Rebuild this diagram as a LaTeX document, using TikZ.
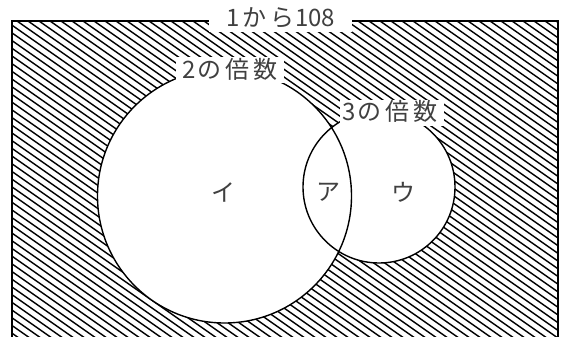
\documentclass[tikz,border=0pt]{standalone}
\usepackage{fontspec}
\setmainfont{Noto Sans CJK JP}
\begin{document}
\begin{tikzpicture}[x=1pt,y=-1pt,
  lab/.style={font=\fontsize{24}{24}\selectfont, inner sep=0pt, text=black!75},
  hatchline/.style={line width=1.4pt},
  circ/.style={line width=1.4pt},
  frame/.style={line width=2pt},
  mask/.style={fill=white}]
\useasboundingbox (0,0) rectangle (562,337);
\clip (0,0) rectangle (562,337);
\begin{scope}
  \clip (12,21) rectangle (558,345);
  \foreach \x in {-500,-489,...,560} \draw[hatchline] (\x,21) -- ++(500,350);
\end{scope}
\fill[white] (224.5,196) circle (127);
\fill[white] (379,187) circle (76);
\draw[circ] (224.5,196) circle (127);
\draw[circ] (379,187) circle (76);
\draw[frame] (12,345) -- (12,21) -- (558,21) -- (558,345);
\fill[mask] (209,0) rectangle (352,32);
\fill[mask] (176,57) rectangle (284,83);
\fill[mask] (340,100) rectangle (444,126);
\node[lab] (all) at (281,18) {1\hspace{2pt}か\hspace{4pt}ら\hspace{1pt}108};
\node[lab] (two) at (230,69) {2\hspace{2pt}の\hspace{4pt}倍\hspace{4pt}数};
\node[lab] (three) at (390,111) {3\hspace{2pt}の\hspace{4pt}倍\hspace{4pt}数};
\node[lab] (i) at (223,192) {イ};
\node[lab] (a) at (328,192) {ア};
\node[lab] (u) at (403,192) {ウ};
\end{tikzpicture}
\end{document}
